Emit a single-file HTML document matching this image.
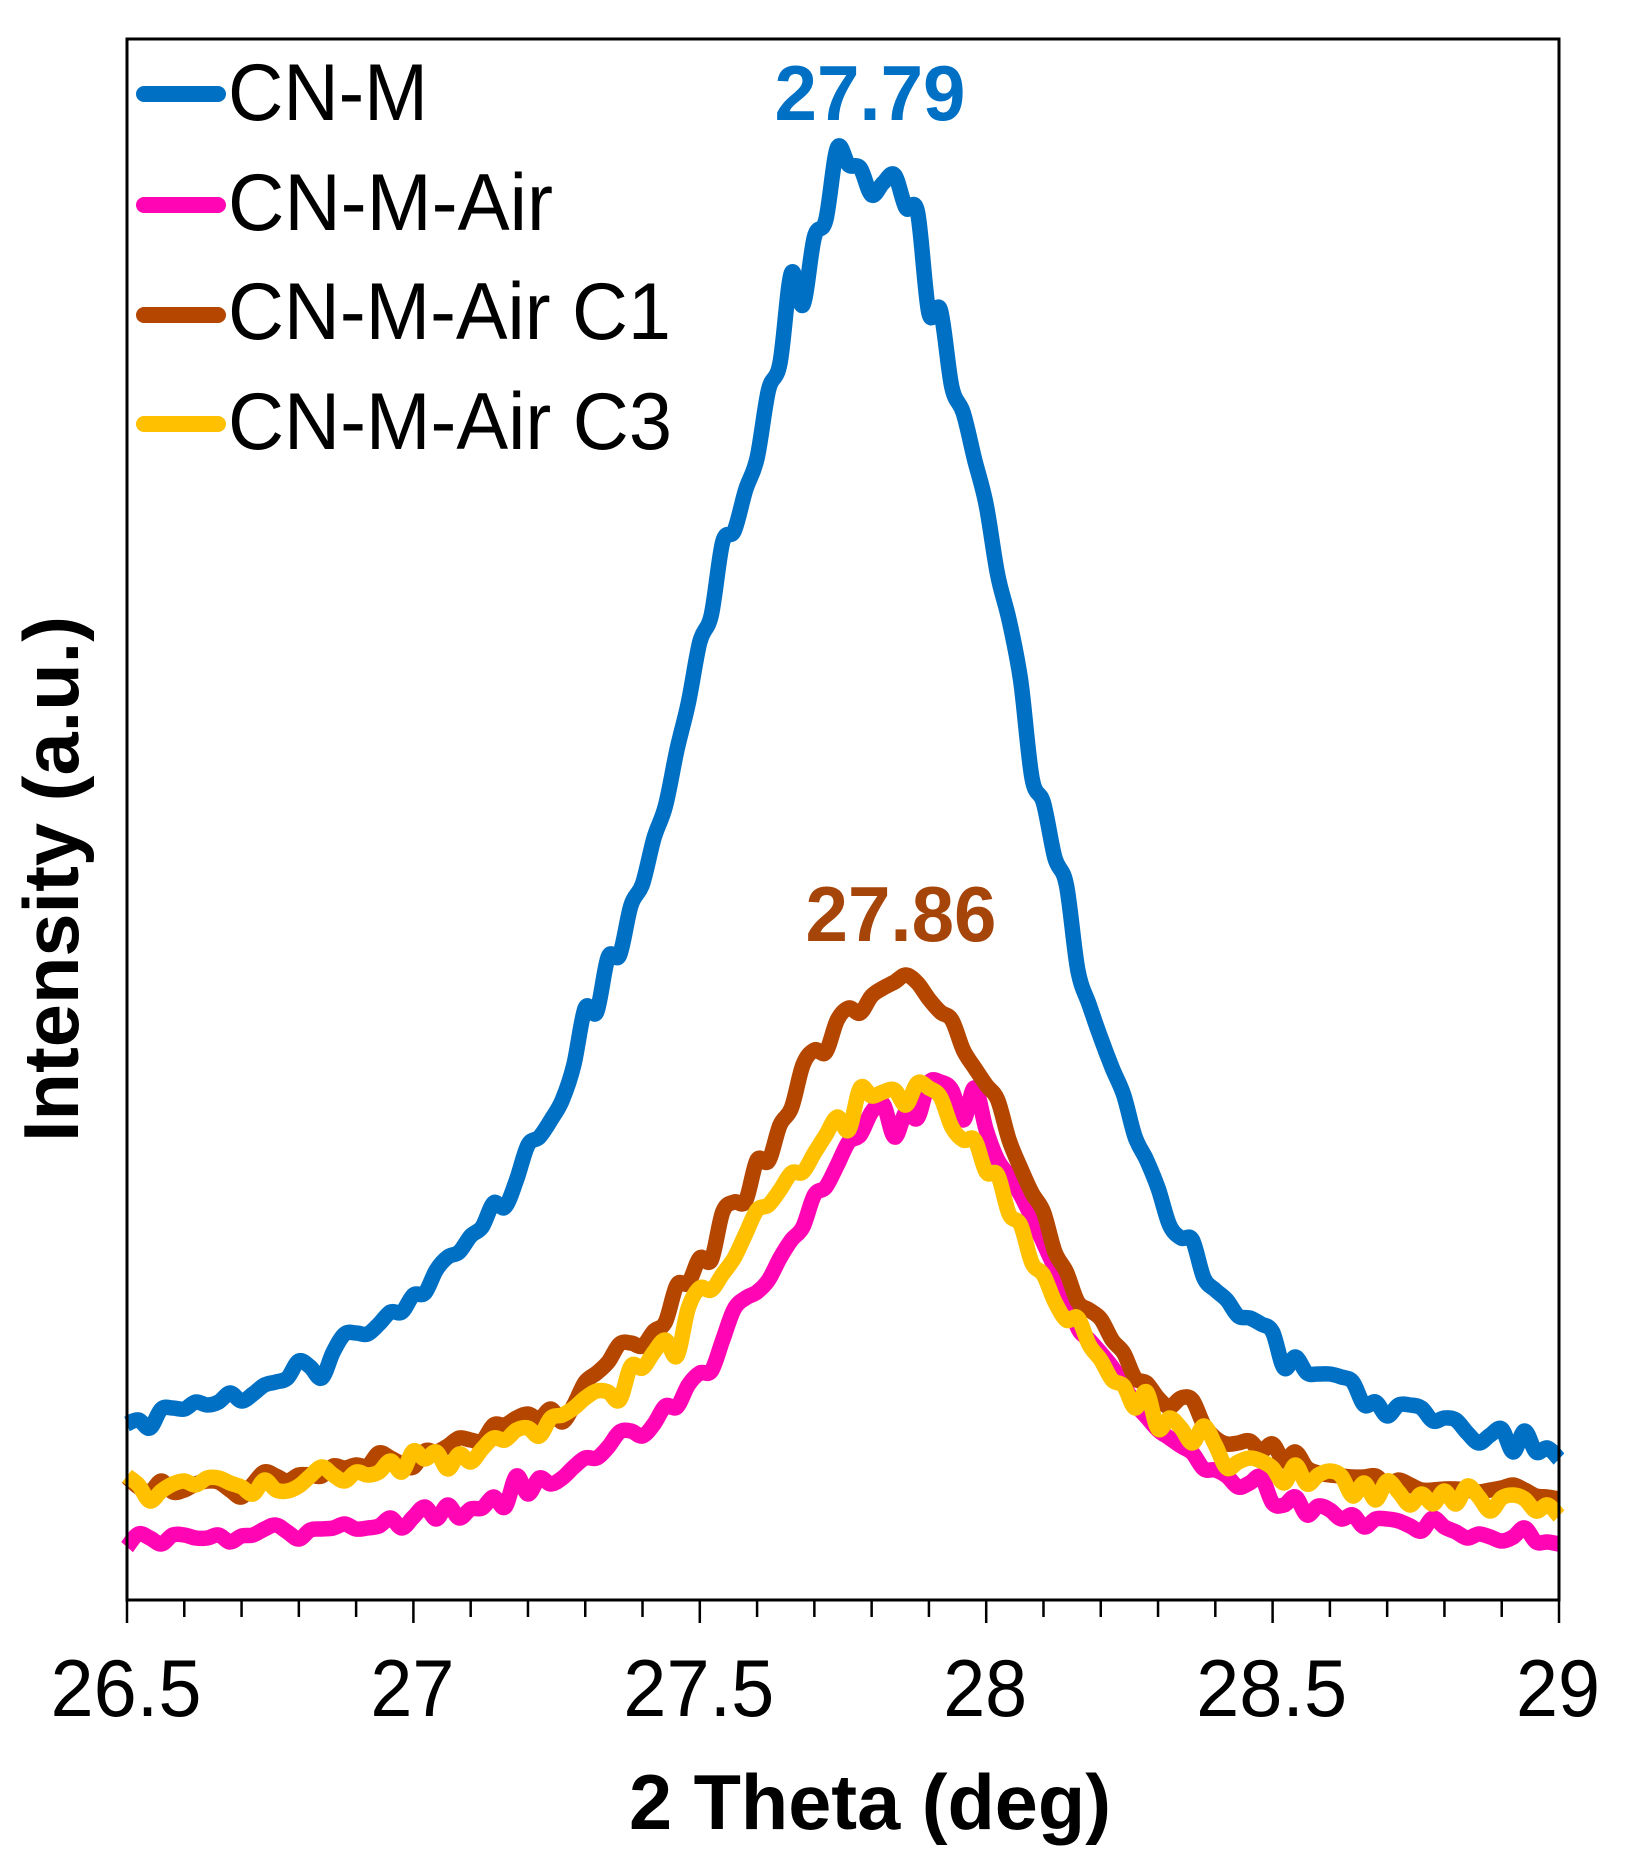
<!DOCTYPE html>
<html lang="en">
<head>
<meta charset="utf-8">
<title>XRD intensity vs 2 Theta</title>
<style>
html,body{margin:0;padding:0;background:#fff;}
svg{display:block;font-family:"Liberation Sans",Arial,sans-serif;}
</style>
</head>
<body>
<svg id="chart" width="1625" height="1862" viewBox="0 0 1625 1862" xmlns="http://www.w3.org/2000/svg">
  <rect x="0" y="0" width="1625" height="1862" fill="#ffffff"/>
  <g id="series-layer"></g>
  <rect x="127" y="39" width="1432" height="1561" fill="none" stroke="#000" stroke-width="3"/>
  <g id="tick-layer"></g>
  <g id="tick-label-layer"></g>
  <text x="870" y="1829" text-anchor="middle" font-size="78" font-weight="700" textLength="482" lengthAdjust="spacingAndGlyphs" fill="#000">2 Theta (deg)</text>
  <text transform="translate(78,879) rotate(-90)" x="0" y="0" text-anchor="middle" font-size="78" font-weight="700" textLength="526" lengthAdjust="spacingAndGlyphs" fill="#000">Intensity (a.u.)</text>
  <text x="870" y="120" text-anchor="middle" font-size="78" font-weight="700" textLength="191" lengthAdjust="spacingAndGlyphs" fill="#0070C5">27.79</text>
  <text x="901" y="941" text-anchor="middle" font-size="78" font-weight="700" textLength="191" lengthAdjust="spacingAndGlyphs" fill="#A5450A">27.86</text>
  <g>
    <g>
      <line x1="144" y1="94" x2="218" y2="94" stroke="#0070C5" stroke-width="16" stroke-linecap="round"/>
      <text x="228" y="120" font-size="81" textLength="200" lengthAdjust="spacingAndGlyphs" fill="#000">CN-M</text>
    </g>
    <g>
      <line x1="144" y1="205" x2="218" y2="205" stroke="#FF05B4" stroke-width="16" stroke-linecap="round"/>
      <text x="228" y="230" font-size="81" textLength="325" lengthAdjust="spacingAndGlyphs" fill="#000">CN-M-Air</text>
    </g>
    <g>
      <line x1="144" y1="315" x2="218" y2="315" stroke="#B54600" stroke-width="16" stroke-linecap="round"/>
      <text x="228" y="339" font-size="81" textLength="443" lengthAdjust="spacingAndGlyphs" fill="#000">CN-M-Air C1</text>
    </g>
    <g>
      <line x1="144" y1="424" x2="218" y2="424" stroke="#FFC000" stroke-width="16" stroke-linecap="round"/>
      <text x="228" y="449" font-size="81" textLength="444" lengthAdjust="spacingAndGlyphs" fill="#000">CN-M-Air C3</text>
    </g>
  </g>
</svg>
<script>
var theta = [26.50,26.52,26.54,26.56,26.58,26.60,26.62,26.64,26.66,26.68,
26.70,26.72,26.74,26.76,26.78,26.80,26.82,26.84,26.86,26.88,
26.90,26.92,26.94,26.96,26.98,27.00,27.02,27.04,27.06,27.08,
27.10,27.12,27.14,27.16,27.18,27.20,27.22,27.24,27.26,27.28,
27.30,27.32,27.34,27.36,27.38,27.40,27.42,27.44,27.46,27.48,
27.50,27.52,27.54,27.56,27.58,27.60,27.62,27.64,27.66,27.68,
27.70,27.72,27.74,27.76,27.78,27.80,27.82,27.84,27.86,27.88,
27.90,27.92,27.94,27.96,27.98,28.00,28.02,28.04,28.06,28.08,
28.10,28.12,28.14,28.16,28.18,28.20,28.22,28.24,28.26,28.28,
28.30,28.32,28.34,28.36,28.38,28.40,28.42,28.44,28.46,28.48,
28.50,28.52,28.54,28.56,28.58,28.60,28.62,28.64,28.66,28.68,
28.70,28.72,28.74,28.76,28.78,28.80,28.82,28.84,28.86,28.88,
28.90,28.92,28.94,28.96,28.98,29.00];

var intensityCnM = [176,180,172,191,192,191,198,195,198,207,
199,206,215,218,222,239,233,222,248,266,
267,266,276,288,288,305,307,330,343,348,
364,373,397,393,420,455,463,480,500,535,
592,588,643,645,695,716,762,794,850,897,
958,985,1058,1069,1110,1142,1210,1237,1327,1295,
1363,1380,1452,1435,1432,1405,1417,1425,1392,1388,
1287,1290,1213,1187,1140,1095,1025,980,920,822,
797,742,715,630,595,562,532,505,463,440,
412,375,362,360,322,310,300,284,282,276,
268,232,243,227,226,226,223,218,195,198,
184,195,195,192,179,182,180,167,157,165,
171,148,169,148,152,141];

var intensityCnMAir = [53,66,62,56,65,65,62,62,65,58,
64,65,71,75,68,61,70,71,72,76,
71,72,74,82,72,83,93,81,95,82,
91,92,103,93,124,106,122,116,122,133,
142,142,153,168,169,164,176,194,193,215,
227,229,260,291,302,308,320,342,360,373,
405,413,435,458,465,488,496,463,488,482,
517,518,510,480,512,470,440,424,405,382,
357,332,308,272,260,247,233,215,196,183,
170,162,154,147,131,130,124,113,117,123,
97,95,103,85,94,90,81,85,73,81,
81,79,74,69,82,73,68,62,66,63,
59,63,72,58,58,56];

var intensityCnMAirC1 = [123,113,108,119,108,110,116,119,118,110,
103,116,128,124,119,125,125,124,134,132,
135,134,147,142,136,133,149,148,154,162,
160,159,175,175,182,186,181,191,178,195,
218,227,238,256,257,254,269,278,315,317,
342,340,388,398,399,440,439,475,492,535,
550,548,580,592,587,604,612,618,625,617,
601,588,580,550,532,515,500,460,432,407,
388,348,328,298,290,281,260,247,222,217,
202,193,202,200,175,162,156,157,159,149,
156,139,148,132,127,125,124,123,123,124,
115,120,115,110,110,111,111,110,108,110,
112,115,110,104,103,101];

var intensityCnMAirC3 = [124,115,99,109,116,119,115,122,122,117,
113,106,120,110,109,114,124,133,125,119,
128,125,128,139,128,149,141,148,131,146,
138,151,162,160,170,172,164,182,185,192,
202,209,208,200,234,232,248,260,244,292,
312,310,326,342,366,390,395,410,427,428,
447,465,483,470,512,504,508,510,495,517,
512,503,473,460,460,428,425,386,375,337,
325,298,280,282,255,240,220,214,192,208,
171,182,172,157,174,155,132,138,142,139,
132,117,135,116,125,129,124,104,117,100,
119,108,95,106,96,109,96,114,103,89,
102,105,101,89,95,84];

var majorTicks = [26.5,27,27.5,28,28.5,29];
var minorTicks = [26.6,26.7,26.8,26.9,27.1,27.2,27.3,27.4,27.6,27.7,27.8,27.9,28.1,28.2,28.3,28.4,28.6,28.7,28.8,28.9];
var tickLabels = ['26.5','27','27.5','28','28.5','29'];

var SVGNS = 'http://www.w3.org/2000/svg';
var plotLeft = 127, plotRight = 1559, plotTop = 39, plotBottom = 1600;
var xMin = 26.5, xMax = 29, yMin = 0, yMax = 1561;

function xScale(v){ return plotLeft + (v - xMin) / (xMax - xMin) * (plotRight - plotLeft); }
function yScale(v){ return plotBottom - (v - yMin) / (yMax - yMin) * (plotBottom - plotTop); }

function smoothPath(xs, ys){
  var pts = xs.map(function(x, i){ return [xScale(x), yScale(ys[i])]; });
  var d = 'M' + pts[0][0].toFixed(1) + ' ' + pts[0][1].toFixed(1);
  for (var i = 0; i < pts.length - 1; i++){
    var p0 = pts[Math.max(i - 1, 0)], p1 = pts[i], p2 = pts[i + 1], p3 = pts[Math.min(i + 2, pts.length - 1)];
    var c1x = p1[0] + (p2[0] - p0[0]) / 6, c1y = p1[1] + (p2[1] - p0[1]) / 6;
    var c2x = p2[0] - (p3[0] - p1[0]) / 6, c2y = p2[1] - (p3[1] - p1[1]) / 6;
    d += 'C' + c1x.toFixed(1) + ' ' + c1y.toFixed(1) + ' ' + c2x.toFixed(1) + ' ' + c2y.toFixed(1) + ' ' + p2[0].toFixed(1) + ' ' + p2[1].toFixed(1);
  }
  return d;
}

var seriesLayer = document.getElementById('series-layer');
function addSeries(values, color, name){
  var path = document.createElementNS(SVGNS, 'path');
  path.setAttribute('d', smoothPath(theta, values));
  path.setAttribute('fill', 'none');
  path.setAttribute('stroke', color);
  path.setAttribute('stroke-width', '15.5');
  path.setAttribute('stroke-linejoin', 'round');
  path.setAttribute('stroke-linecap', 'butt');
  
  
  seriesLayer.appendChild(path);
}
addSeries(intensityCnM, '#0070C5', 'series-cn-m');
addSeries(intensityCnMAir, '#FF05B4', 'series-cn-m-air');
addSeries(intensityCnMAirC1, '#B54600', 'series-cn-m-air-c1');
addSeries(intensityCnMAirC3, '#FFC000', 'series-cn-m-air-c3');

var tickLayer = document.getElementById('tick-layer');
function addTick(v, len, name){
  var t = document.createElementNS(SVGNS, 'line');
  t.setAttribute('x1', xScale(v));
  t.setAttribute('x2', xScale(v));
  t.setAttribute('y1', plotBottom);
  t.setAttribute('y2', plotBottom + len);
  t.setAttribute('stroke', '#000');
  t.setAttribute('stroke-width', '2.5');
  
  
  tickLayer.appendChild(t);
}
majorTicks.forEach(function(v){ addTick(v, 23, 'x-major-tick'); });
minorTicks.forEach(function(v){ addTick(v, 17, 'x-minor-tick'); });

var labelLayer = document.getElementById('tick-label-layer');
tickLabels.forEach(function(label, i){
  var t = document.createElementNS(SVGNS, 'text');
  t.setAttribute('x', xScale(majorTicks[i]) - 1);
  t.setAttribute('y', '1716');
  t.setAttribute('text-anchor', 'middle');
  t.setAttribute('font-size', '81');
  t.setAttribute('textLength', label.length > 2 ? '151' : '84');
  t.setAttribute('lengthAdjust', 'spacingAndGlyphs');
  t.setAttribute('fill', '#000');
  
  
  t.textContent = label;
  labelLayer.appendChild(t);
});
</script>
</body>
</html>
